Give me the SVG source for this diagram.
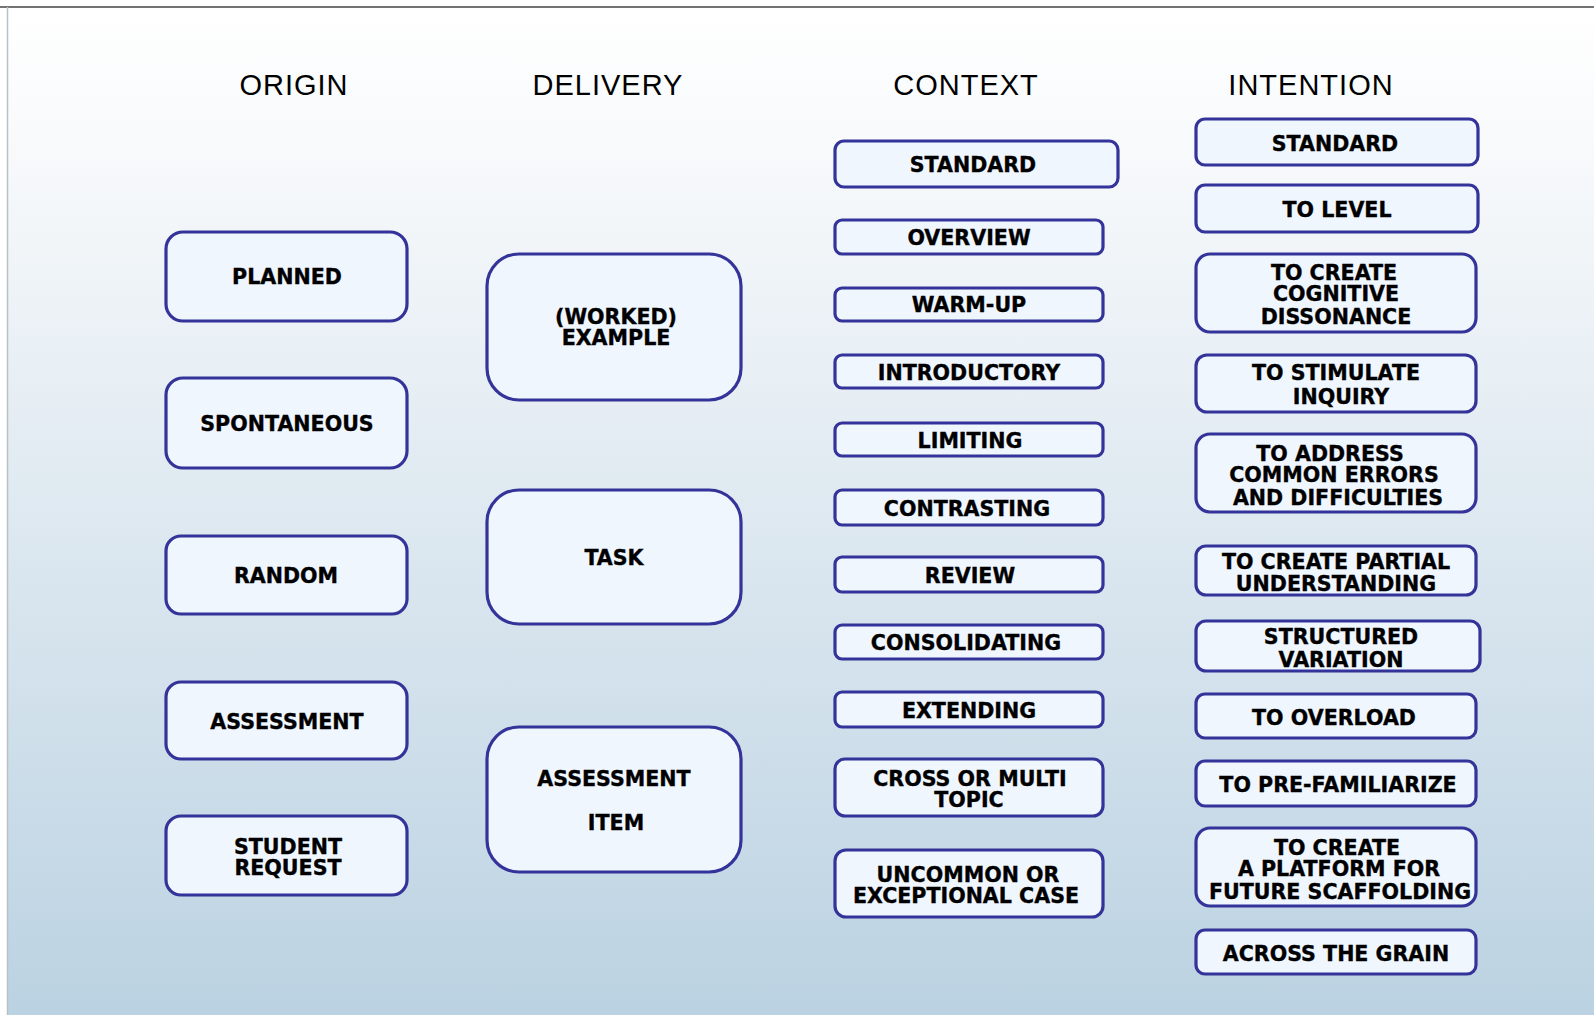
<svg xmlns="http://www.w3.org/2000/svg" width="1594" height="1015" viewBox="0 0 1594 1015">
<defs>
<linearGradient id="bg" x1="0" y1="0" x2="0" y2="1">
<stop offset="0" stop-color="#ffffff"/>
<stop offset="0.15" stop-color="#f7f9fb"/>
<stop offset="1" stop-color="#bbd2e2"/>
</linearGradient>
</defs>
<style>
.box{fill:#eff6fe;stroke:#333399;stroke-width:3.2}
.lbl{font-family:"DejaVu Sans",Verdana,sans-serif;font-weight:bold;font-size:20.6px;fill:#000;stroke:#000;stroke-width:0.35;text-anchor:middle}
.hdr{font-family:"Liberation Sans",Arial,sans-serif;font-size:29px;fill:#000;text-anchor:middle;letter-spacing:1px}
</style>
<rect x="0" y="0" width="1594" height="1015" fill="#ffffff"/>
<rect x="7" y="7" width="1587" height="1008" fill="url(#bg)"/>
<line x1="0" y1="7" x2="1594" y2="7" stroke="#444" stroke-width="1.5"/>
<line x1="7.5" y1="7" x2="7.5" y2="1015" stroke="#b8c0c8" stroke-width="1.5"/>

<g id="headers">
<text class="hdr" x="294" y="95">ORIGIN</text>
<text class="hdr" x="608" y="95">DELIVERY</text>
<text class="hdr" x="966" y="95">CONTEXT</text>
<text class="hdr" x="1311" y="95">INTENTION</text>
</g>

<g id="connectors"></g>

<!-- ORIGIN -->
<g id="o-planned"><rect class="box" x="166" y="232" width="241" height="89" rx="17"/><text class="lbl" x="287" y="284">PLANNED</text></g>
<g id="o-spontaneous"><rect class="box" x="166" y="378" width="241" height="90" rx="17"/><text class="lbl" x="287" y="431">SPONTANEOUS</text></g>
<g id="o-random"><rect class="box" x="166" y="536" width="241" height="78" rx="15"/><text class="lbl" x="286" y="582.5">RANDOM</text></g>
<g id="o-assessment"><rect class="box" x="166" y="682" width="241" height="77" rx="15"/><text class="lbl" x="287" y="729">ASSESSMENT</text></g>
<g id="o-student"><rect class="box" x="166" y="816" width="241" height="79" rx="15"/><text class="lbl" x="288" y="853.5">STUDENT</text><text class="lbl" x="288" y="875">REQUEST</text></g>

<!-- DELIVERY -->
<g id="d-example"><rect class="box" x="487" y="254" width="254" height="146" rx="32"/><text class="lbl" x="616" y="323.5">(WORKED)</text><text class="lbl" x="616" y="345">EXAMPLE</text></g>
<g id="d-task"><rect class="box" x="487" y="490" width="254" height="134" rx="32"/><text class="lbl" x="614" y="564.5">TASK</text></g>
<g id="d-item"><rect class="box" x="487" y="727" width="254" height="145" rx="32"/><text class="lbl" x="614" y="785.5">ASSESSMENT</text><text class="lbl" x="616" y="829.5">ITEM</text></g>

<!-- CONTEXT -->
<g id="c-standard"><rect class="box" x="835" y="141" width="283" height="46" rx="9"/><text class="lbl" x="973" y="171.5">STANDARD</text></g>
<g id="c-overview"><rect class="box" x="835" y="220" width="268" height="34" rx="7"/><text class="lbl" x="969" y="244.5">OVERVIEW</text></g>
<g id="c-warmup"><rect class="box" x="835" y="288" width="268" height="33" rx="7"/><text class="lbl" x="969" y="312">WARM-UP</text></g>
<g id="c-intro"><rect class="box" x="835" y="355" width="268" height="33" rx="7"/><text class="lbl" x="969" y="379.5">INTRODUCTORY</text></g>
<g id="c-limiting"><rect class="box" x="835" y="423" width="268" height="33" rx="7"/><text class="lbl" x="970" y="447.5">LIMITING</text></g>
<g id="c-contrasting"><rect class="box" x="835" y="490" width="268" height="35" rx="7"/><text class="lbl" x="967" y="515.5">CONTRASTING</text></g>
<g id="c-review"><rect class="box" x="835" y="557" width="268" height="35" rx="7"/><text class="lbl" x="970" y="582.5">REVIEW</text></g>
<g id="c-consolidating"><rect class="box" x="835" y="625" width="268" height="34" rx="7"/><text class="lbl" x="966" y="649.5">CONSOLIDATING</text></g>
<g id="c-extending"><rect class="box" x="835" y="692" width="268" height="35" rx="7"/><text class="lbl" x="969" y="717.5">EXTENDING</text></g>
<g id="c-cross"><rect class="box" x="835" y="759" width="268" height="57" rx="10"/><text class="lbl" x="970" y="785.5">CROSS OR MULTI</text><text class="lbl" x="969" y="806.5">TOPIC</text></g>
<g id="c-uncommon"><rect class="box" x="835" y="850" width="268" height="67" rx="11"/><text class="lbl" x="968" y="881.5">UNCOMMON OR</text><text class="lbl" x="966" y="902.5">EXCEPTIONAL CASE</text></g>

<!-- INTENTION -->
<g id="i-standard"><rect class="box" x="1196" y="119" width="282" height="46" rx="9"/><text class="lbl" x="1335" y="150.5">STANDARD</text></g>
<g id="i-level"><rect class="box" x="1196" y="185" width="282" height="47" rx="9"/><text class="lbl" x="1337" y="216.5">TO LEVEL</text></g>
<g id="i-dissonance"><rect class="box" x="1196" y="254" width="280" height="78" rx="14"/><text class="lbl" x="1334" y="279.5">TO CREATE</text><text class="lbl" x="1336" y="300.5">COGNITIVE</text><text class="lbl" x="1336" y="323.5">DISSONANCE</text></g>
<g id="i-inquiry"><rect class="box" x="1196" y="355" width="280" height="57" rx="11"/><text class="lbl" x="1336" y="379.5">TO STIMULATE</text><text class="lbl" x="1341" y="403.5">INQUIRY</text></g>
<g id="i-errors"><rect class="box" x="1196" y="434" width="280" height="78" rx="14"/><text class="lbl" x="1330" y="460.5">TO ADDRESS</text><text class="lbl" x="1334" y="481.5">COMMON ERRORS</text><text class="lbl" x="1338" y="504.5">AND DIFFICULTIES</text></g>
<g id="i-partial"><rect class="box" x="1196" y="546" width="280" height="49" rx="10"/><text class="lbl" x="1336" y="568.5">TO CREATE PARTIAL</text><text class="lbl" x="1336" y="590.5">UNDERSTANDING</text></g>
<g id="i-variation"><rect class="box" x="1196" y="621" width="284" height="50" rx="10"/><text class="lbl" x="1341" y="643.5">STRUCTURED</text><text class="lbl" x="1341" y="666.5">VARIATION</text></g>
<g id="i-overload"><rect class="box" x="1196" y="694" width="280" height="44" rx="9"/><text class="lbl" x="1334" y="724.5">TO OVERLOAD</text></g>
<g id="i-prefam"><rect class="box" x="1196" y="761" width="280" height="45" rx="9"/><text class="lbl" x="1338" y="791.5">TO PRE-FAMILIARIZE</text></g>
<g id="i-platform"><rect class="box" x="1196" y="828" width="280" height="78" rx="14"/><text class="lbl" x="1337" y="854.5">TO CREATE</text><text class="lbl" x="1339" y="875.5">A PLATFORM FOR</text><text class="lbl" x="1340" y="898.5">FUTURE SCAFFOLDING</text></g>
<g id="i-grain"><rect class="box" x="1196" y="930" width="280" height="44" rx="9"/><text class="lbl" x="1336" y="960.5">ACROSS THE GRAIN</text></g>
</svg>
